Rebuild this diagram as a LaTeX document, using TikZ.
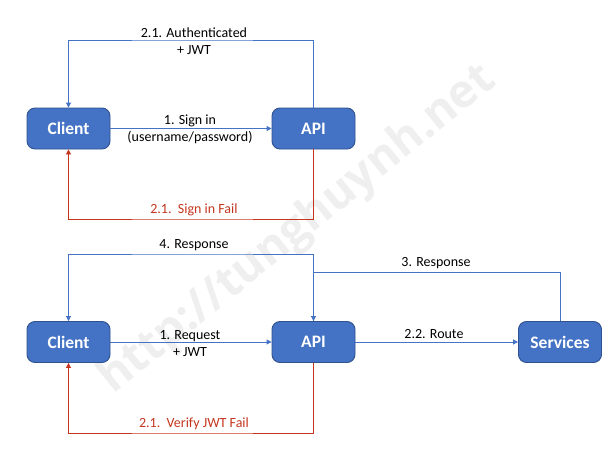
\documentclass[tikz,border=0pt]{standalone}
\usepackage{fontspec}
\setmainfont{Carlito}
\newfontfamily\wmfont{Open Sans}
\usetikzlibrary{arrows.meta}
\definecolor{boxblue}{HTML}{4472C4}
\definecolor{boxedge}{HTML}{2F528F}
\definecolor{lineblue}{HTML}{4472C4}
\definecolor{failred}{HTML}{C5361F}
\definecolor{wmgray}{HTML}{EFEFEF}
\tikzset{
  box/.style={rounded corners=8pt, fill=boxblue, draw=boxedge, line width=0.9pt,
    minimum width=83pt, minimum height=41pt, text=white, inner sep=0pt,
    font=\bfseries\fontsize{17.5}{20}\selectfont},
  lbl/.style={font=\fontsize{14}{17.5}\selectfont, align=center, inner sep=0pt, text=black},
  redlbl/.style={lbl, text=failred},
  bluearr/.style={draw=lineblue, line width=0.9pt, -{Triangle[length=5pt,width=5pt]}},
  redarr/.style={draw=failred, line width=0.9pt, -{Triangle[length=5pt,width=5pt]}},
}
\begin{document}
\begin{tikzpicture}[x=1pt,y=-1pt]
\useasboundingbox (0,0) rectangle (614,453);
\fill[white] (0,0) rectangle (614,453);
% watermark
\node[rotate=39, text=wmgray, font=\wmfont\bfseries\fontsize{46}{46}\selectfont] (wm) at (298,230) {http://tunghuynh.net};

% top diagram
\node[box] (c1) at (68.5,128.5) {Client};
\node[box] (a1) at (313.5,128.5) {API};
\coordinate (t1) at (194,40);
\coordinate (b1) at (194,219);
\draw[bluearr] (c1.east) -- (a1.west);
\draw[bluearr] (a1.north) |- (t1) -| (c1.north);
\draw[redarr] (a1.south) |- (b1) -| (c1.south);
\node[lbl] (l1) at (190,129.5) {1. Sign in\\(username/password)};
\node[lbl] (l2) at (194,41) {2.1. Authenticated\\+ JWT};
\node[redlbl] (l3) at (194,210) {2.1.\ \ Sign in Fail};

% bottom diagram
\node[box] (c2) at (68.5,342) {Client};
\node[box] (a2) at (313.5,342) {API};
\node[box] (s2) at (560,342) {Services};
\coordinate (t2) at (194,254);
\coordinate (j2) at (313.5,272);
\coordinate (b2) at (194,433);
\draw[bluearr] (c2.east) -- (a2.west);
\draw[bluearr] (a2.east) -- (s2.west);
\draw[bluearr] (a2.north) |- (t2) -| (c2.north);
\draw[bluearr] (s2.north) |- (j2) -- (a2.north);
\draw[redarr] (a2.south) |- (b2) -| (c2.south);
\node[lbl] (l4) at (190,343.5) {1. Request\\+ JWT};
\node[lbl] (l5) at (434,334) {2.2. Route};
\node[lbl] (l6) at (194,245) {4. Response};
\node[lbl] (l7) at (436,263) {3. Response};
\node[redlbl] (l8) at (194,424) {2.1.\ \ Verify JWT Fail};
\end{tikzpicture}
\end{document}
